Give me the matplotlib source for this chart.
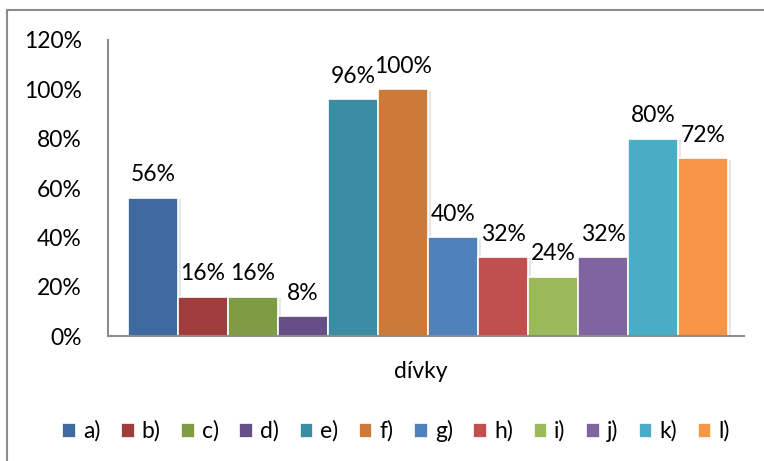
import matplotlib
matplotlib.use("Agg")
import matplotlib.pyplot as plt
from matplotlib.patches import Rectangle, Patch
import matplotlib.patheffects as pe

# data
series = ["a)", "b)", "c)", "d)", "e)", "f)", "g)", "h)", "i)", "j)", "k)", "l)"]
values = [0.56, 0.16, 0.16, 0.08, 0.96, 1.00, 0.40, 0.32, 0.24, 0.32, 0.80, 0.72]
category = "dívky"
colors = ["#3E6A9F", "#9E3D3B", "#7F9B44", "#664E87", "#3A8DA2", "#CC7A37",
          "#4F81BD", "#C0504D", "#9BBB59", "#8064A2", "#4BACC6", "#F79646"]
yticks = [0, 0.2, 0.4, 0.6, 0.8, 1.0, 1.2]

plt.rcParams["font.family"] = ["Lato", "DejaVu Sans"]
FS = 16.5

fig = plt.figure(figsize=(7.64, 4.61), dpi=100)
ax = fig.add_axes([108 / 764, 1 - 336 / 461, 636 / 764, 296 / 461])

# outer chart frame (cropped on the right/bottom like the reference)
fig.patches.append(Rectangle((7 / 764, -0.1), 1.2, 1 - 10 / 461 + 0.1,
                             transform=fig.transFigure, fill=False,
                             edgecolor="#8C8C8C", linewidth=1.5))

shadow = [pe.SimplePatchShadow(offset=(2, -1), shadow_rgbFace="#D0D0D0", alpha=0.5), pe.Normal()]
for i, (v, c) in enumerate(zip(values, colors)):
    b = ax.bar(i, v, width=1.0, color=c, edgecolor="white", linewidth=1.2, zorder=2)
    b[0].set_path_effects(shadow)
    ax.annotate(f"{v*100:.0f}%", (i, v), xytext=(0, 9), textcoords="offset points",
                ha="center", va="bottom", fontsize=FS, color="black")

ax.set_xlim(-0.9, 11.82)
ax.set_ylim(0, 1.2)
ax.set_yticks(yticks)
ax.set_yticklabels([f"{t*100:.0f}%" for t in yticks], fontsize=FS)
ax.set_xticks([5.5 - 0.15])
ax.set_xticklabels([category], fontsize=FS)
ax.tick_params(axis="both", length=0)
ax.tick_params(axis="y", pad=19)
ax.tick_params(axis="x", pad=18)
for s in ["top", "right"]:
    ax.spines[s].set_visible(False)
for s in ["left", "bottom"]:
    ax.spines[s].set_color("#8C8C8C")
    ax.spines[s].set_linewidth(1.5)

handles = [Patch(facecolor=c, edgecolor="white", linewidth=0.5) for c in colors]
fig.legend(handles, series, loc="center", bbox_to_anchor=(396 / 764, 1 - 431 / 461),
           ncol=12, frameon=False, fontsize=FS, handlelength=0.55, handleheight=0.55,
           handletextpad=0.35, columnspacing=0.9)

fig.savefig("out.png", dpi=100)
